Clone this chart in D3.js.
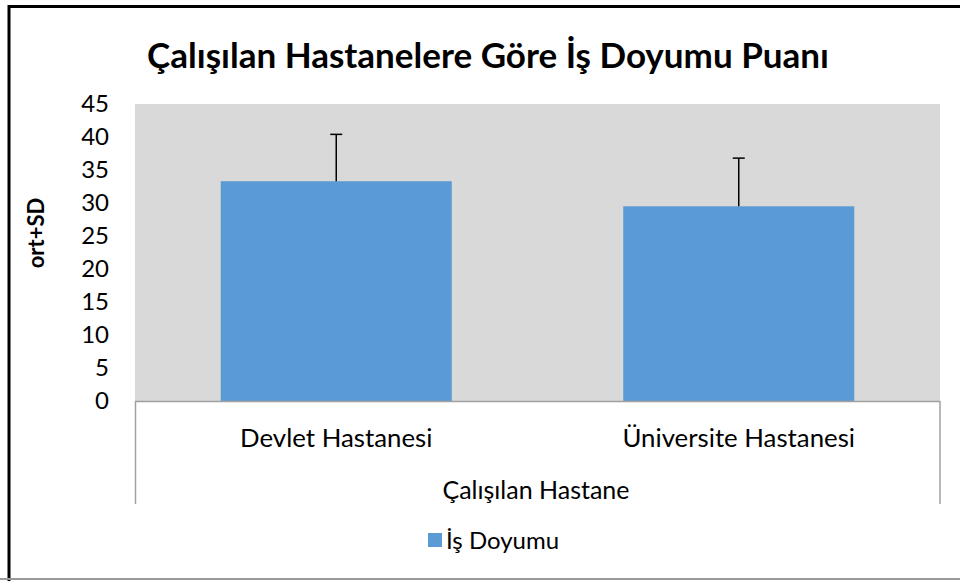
<!DOCTYPE html>
<html>
<head>
<meta charset="utf-8">
<script src="https://cdn.jsdelivr.net/npm/d3@7"></script>
<style>
  html, body { margin: 0; padding: 0; background: #fff; }
  svg { display: block; }
  text { font-family: Lato, "Open Sans", "Liberation Sans", sans-serif; fill: #000; }
</style>
</head>
<body>
<svg id="chart" width="960" height="581"></svg>
<script>
const categories = ["Devlet Hastanesi", "Üniversite Hastanesi"];
const means = [33.3, 29.5];
const sds = [7.1, 7.3];
const yTicks = [0, 5, 10, 15, 20, 25, 30, 35, 40, 45];
const seriesName = "İş Doyumu";
const titleText = "Çalışılan Hastanelere Göre İş Doyumu Puanı";
const xTitle = "Çalışılan Hastane";
const yTitle = "ort+SD";

const svg = d3.select("#chart");
const plot = { left: 135, right: 940, top: 104, bottom: 401 };

// outer border
svg.append("line").attr("x1", 9).attr("x2", 960).attr("y1", 6.5).attr("y2", 6.5)
  .attr("stroke", "#000").attr("stroke-width", 3);
svg.append("line").attr("x1", 9).attr("x2", 9).attr("y1", 5).attr("y2", 581)
  .attr("stroke", "#000").attr("stroke-width", 3);
svg.append("line").attr("x1", 0).attr("x2", 960).attr("y1", 579).attr("y2", 579)
  .attr("stroke", "#999").attr("stroke-width", 2);

const x = d3.scaleBand().domain(categories)
  .range([plot.left, plot.right]).paddingInner(0.426).paddingOuter(0.213);
const y = d3.scaleLinear().domain([0, 45]).range([plot.bottom, plot.top]);

// plot background
svg.append("rect").attr("x", plot.left).attr("y", plot.top)
  .attr("width", plot.right - plot.left).attr("height", plot.bottom - plot.top)
  .attr("fill", "#d9d9d9");

// bars
svg.selectAll("rect.bar").data(categories).enter().append("rect")
  .attr("class", "bar")
  .attr("x", d => x(d))
  .attr("width", x.bandwidth())
  .attr("y", (d, i) => y(means[i]))
  .attr("height", (d, i) => y(0) - y(means[i]))
  .attr("fill", "#5b9bd5");

// error bars
const eb = svg.append("g").attr("stroke", "#000").attr("stroke-width", 1.5);
categories.forEach((c, i) => {
  const cx = x(c) + x.bandwidth() / 2;
  eb.append("line").attr("x1", cx).attr("x2", cx)
    .attr("y1", y(means[i])).attr("y2", y(means[i] + sds[i]));
  eb.append("line").attr("x1", cx - 6).attr("x2", cx + 6)
    .attr("y1", y(means[i] + sds[i])).attr("y2", y(means[i] + sds[i]));
});

// category axis box
const ax = svg.append("g").attr("stroke", "#a0a0a0").attr("stroke-width", 1.5);
ax.append("line").attr("x1", plot.left).attr("x2", plot.right)
  .attr("y1", plot.bottom + 0.5).attr("y2", plot.bottom + 0.5);
ax.append("line").attr("x1", plot.left + 0.5).attr("x2", plot.left + 0.5)
  .attr("y1", plot.bottom).attr("y2", 504);
ax.append("line").attr("x1", plot.right).attr("x2", plot.right)
  .attr("y1", plot.bottom).attr("y2", 504);

// y axis (labels only)
const yAxis = d3.axisLeft(y).tickValues(yTicks).tickSize(0).tickPadding(0);
const yg = svg.append("g").attr("transform", `translate(109,0)`).call(yAxis);
yg.select(".domain").remove();
yg.selectAll("text").attr("font-size", 24).attr("fill", "#000")
  .attr("font-family", "Lato, 'Open Sans', sans-serif");

// x category labels
const xAxis = d3.axisBottom(x).tickSize(0).tickPadding(0);
const xg = svg.append("g").attr("transform", `translate(0,429)`).call(xAxis);
xg.select(".domain").remove();
xg.selectAll("text").attr("font-size", 25.8).attr("fill", "#000")
  .attr("font-family", "Lato, 'Open Sans', sans-serif");

// titles
svg.append("text").attr("x", 488).attr("y", 68).attr("text-anchor", "middle")
  .attr("font-size", 35).attr("font-weight", "bold").text(titleText);
svg.append("text").attr("x", 536).attr("y", 499).attr("text-anchor", "middle")
  .attr("font-size", 25).text(xTitle);
svg.append("text").attr("transform", "translate(44,233) rotate(-90)")
  .attr("text-anchor", "middle").attr("font-size", 22).attr("font-weight", "bold")
  .text(yTitle);

// legend
svg.append("rect").attr("x", 428).attr("y", 533).attr("width", 14).attr("height", 14)
  .attr("fill", "#5b9bd5");
svg.append("text").attr("x", 446).attr("y", 549).attr("font-size", 24).text(seriesName);
</script>
</body>
</html>
